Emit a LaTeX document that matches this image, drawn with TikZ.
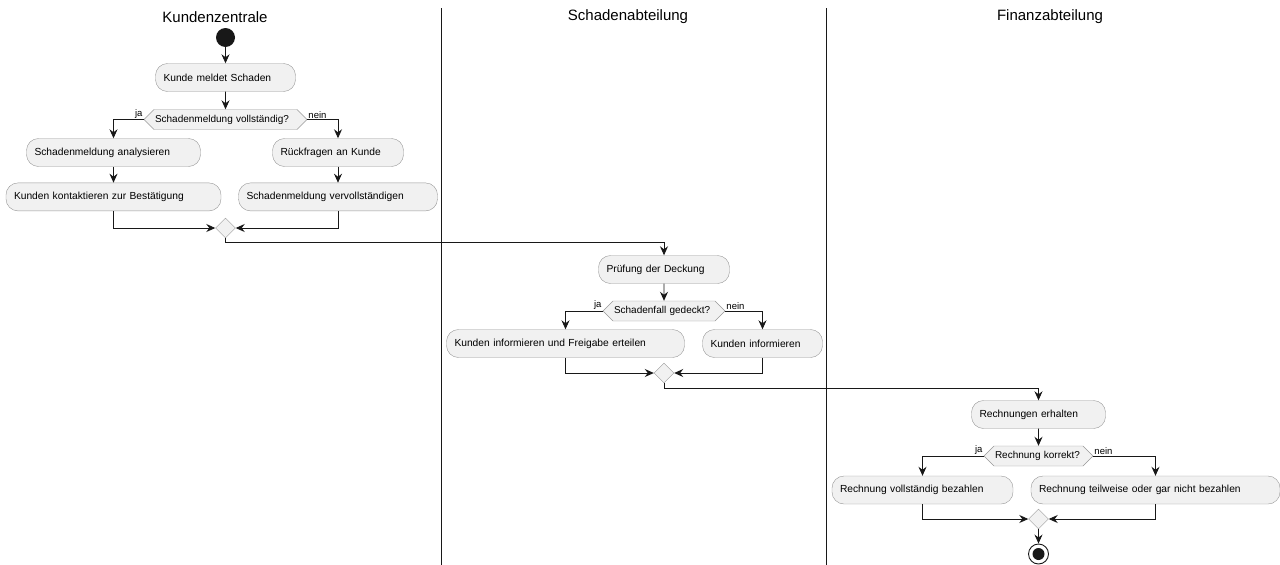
\documentclass[tikz,border=0pt]{standalone}
\usepackage{fontspec}
\setmainfont{Liberation Sans}
\usepackage{tikz}
\usetikzlibrary{shapes.geometric, shapes.symbols, arrows.meta, positioning}
\definecolor{actfill}{HTML}{F1F1F1}
\definecolor{actline}{HTML}{181818}
\tikzstyle{act} = [rectangle, draw=actline!45, fill=actfill, rounded corners=12pt, minimum height=28pt, inner xsep=8pt, align=left, font=\fontsize{10.25}{12}\selectfont]
\tikzstyle{quest} = [signal, signal to=west and east, signal pointer angle=90, draw=actline!45, fill=actfill, minimum height=20pt, inner xsep=1pt, inner ysep=0pt, align=left, font=\fontsize{10}{12}\selectfont]
\tikzstyle{merge} = [diamond, draw=actline!45, fill=actfill, minimum width=20pt, minimum height=20pt, inner sep=0pt]
\tikzstyle{init} = [circle, fill=actline, minimum size=19pt, inner sep=0pt]
\tikzstyle{finish} = [circle, draw=actline, line width=0.9pt, fill=white, minimum size=20pt, inner sep=0pt, path picture={\fill[actline] (path picture bounding box.center) circle (6pt);}]
\tikzstyle{lbl} = [inner sep=1pt, font=\fontsize{9.5}{11}\selectfont]
\tikzstyle{lane} = [draw=actline, line width=1pt]
\tikzstyle{title} = [font=\fontsize{15}{18}\selectfont]
\tikzstyle{line} = [draw=actline, line width=0.9pt, -{Stealth[length=9pt, width=8pt, inset=3pt]}]

\begin{document}
\begin{tikzpicture}[x=1pt, y=-1pt, node distance=16pt]
  \useasboundingbox (0,0) rectangle (1280,565);
  % swimlanes
  \node (t1) [title] at (215,17) {Kundenzentrale};
  \node (t2) [title] at (628,17) {Schadenabteilung};
  \node (t3) [title] at (1050,17) {Finanzabteilung};
  \draw [lane] (441,8) -- (441,565);
  \draw [lane] (826,8) -- (826,565);

  % Kundenzentrale
  \node (start) [init] at (225.5,37.5) {};
  \node (kms) [act, text width=124pt] at (225.5,77.5) {Kunde meldet Schaden};
  \node (q1) [quest, text width=141pt] at (225.5,119.5) {Schadenmeldung vollständig?};
  \node (sma) [act, text width=158pt] at (113.5,152.5) {Schadenmeldung analysieren};
  \node (kkb) [act, text width=199pt, below=of sma] {Kunden kontaktieren zur Bestätigung};
  \node (rak) [act, text width=115pt] at (338,152.5) {Rückfragen an Kunde};
  \node (smv) [act, text width=183pt, below=of rak] {Schadenmeldung vervollständigen};
  \node (m1) [merge] at (225.5,228) {};
  \node [lbl, anchor=south east] at (q1.west) {ja};
  \node [lbl, anchor=south west] at (q1.east) {nein};

  % Schadenabteilung
  \node (pd) [act, text width=115pt] at (664,269.5) {Prüfung der Deckung};
  \node (q2) [quest, text width=100pt] at (664,311) {Schadenfall gedeckt?};
  \node (kif) [act, text width=222pt] at (565.5,343.5) {Kunden informieren und Freigabe erteilen};
  \node (ki) [act, text width=104pt] at (762.5,343.5) {Kunden informieren};
  \node (m2) [merge] at (664,373) {};
  \node [lbl, anchor=south east] at (q2.west) {ja};
  \node [lbl, anchor=south west] at (q2.east) {nein};

  % Finanzabteilung
  \node (re) [act, text width=118pt] at (1038.5,414.5) {Rechnungen erhalten};
  \node (q3) [quest, text width=87pt] at (1038.5,456) {Rechnung korrekt?};
  \node (rvb) [act, text width=165pt] at (922.5,490) {Rechnung vollständig bezahlen};
  \node (rtb) [act, text width=233pt] at (1155.5,490) {Rechnung teilweise oder gar nicht bezahlen};
  \node (m3) [merge] at (1038.5,519) {};
  \node (end) [finish] at (1038.5,554) {};
  \node [lbl, anchor=south east] at (q3.west) {ja};
  \node [lbl, anchor=south west] at (q3.east) {nein};

  \draw [line] (start) -- (kms);
  \draw [line] (kms) -- (q1);
  \draw [line] (q1.west) -| (sma);
  \draw [line] (q1.east) -| (rak);
  \draw [line] (sma) -- (kkb);
  \draw [line] (rak) -- (smv);
  \draw [line] (kkb) |- (m1);
  \draw [line] (smv) |- (m1);
  \draw [line] (m1.south) -- ++(0,4) -| (pd);
  \draw [line] (pd) -- (q2);
  \draw [line] (q2.west) -| (kif);
  \draw [line] (q2.east) -| (ki);
  \draw [line] (kif) |- (m2);
  \draw [line] (ki) |- (m2);
  \draw [line] (m2.south) -- ++(0,5) -| (re);
  \draw [line] (re) -- (q3);
  \draw [line] (q3.west) -| (rvb);
  \draw [line] (q3.east) -| (rtb);
  \draw [line] (rvb) |- (m3);
  \draw [line] (rtb) |- (m3);
  \draw [line] (m3) -- (end);
\end{tikzpicture}
\end{document}
